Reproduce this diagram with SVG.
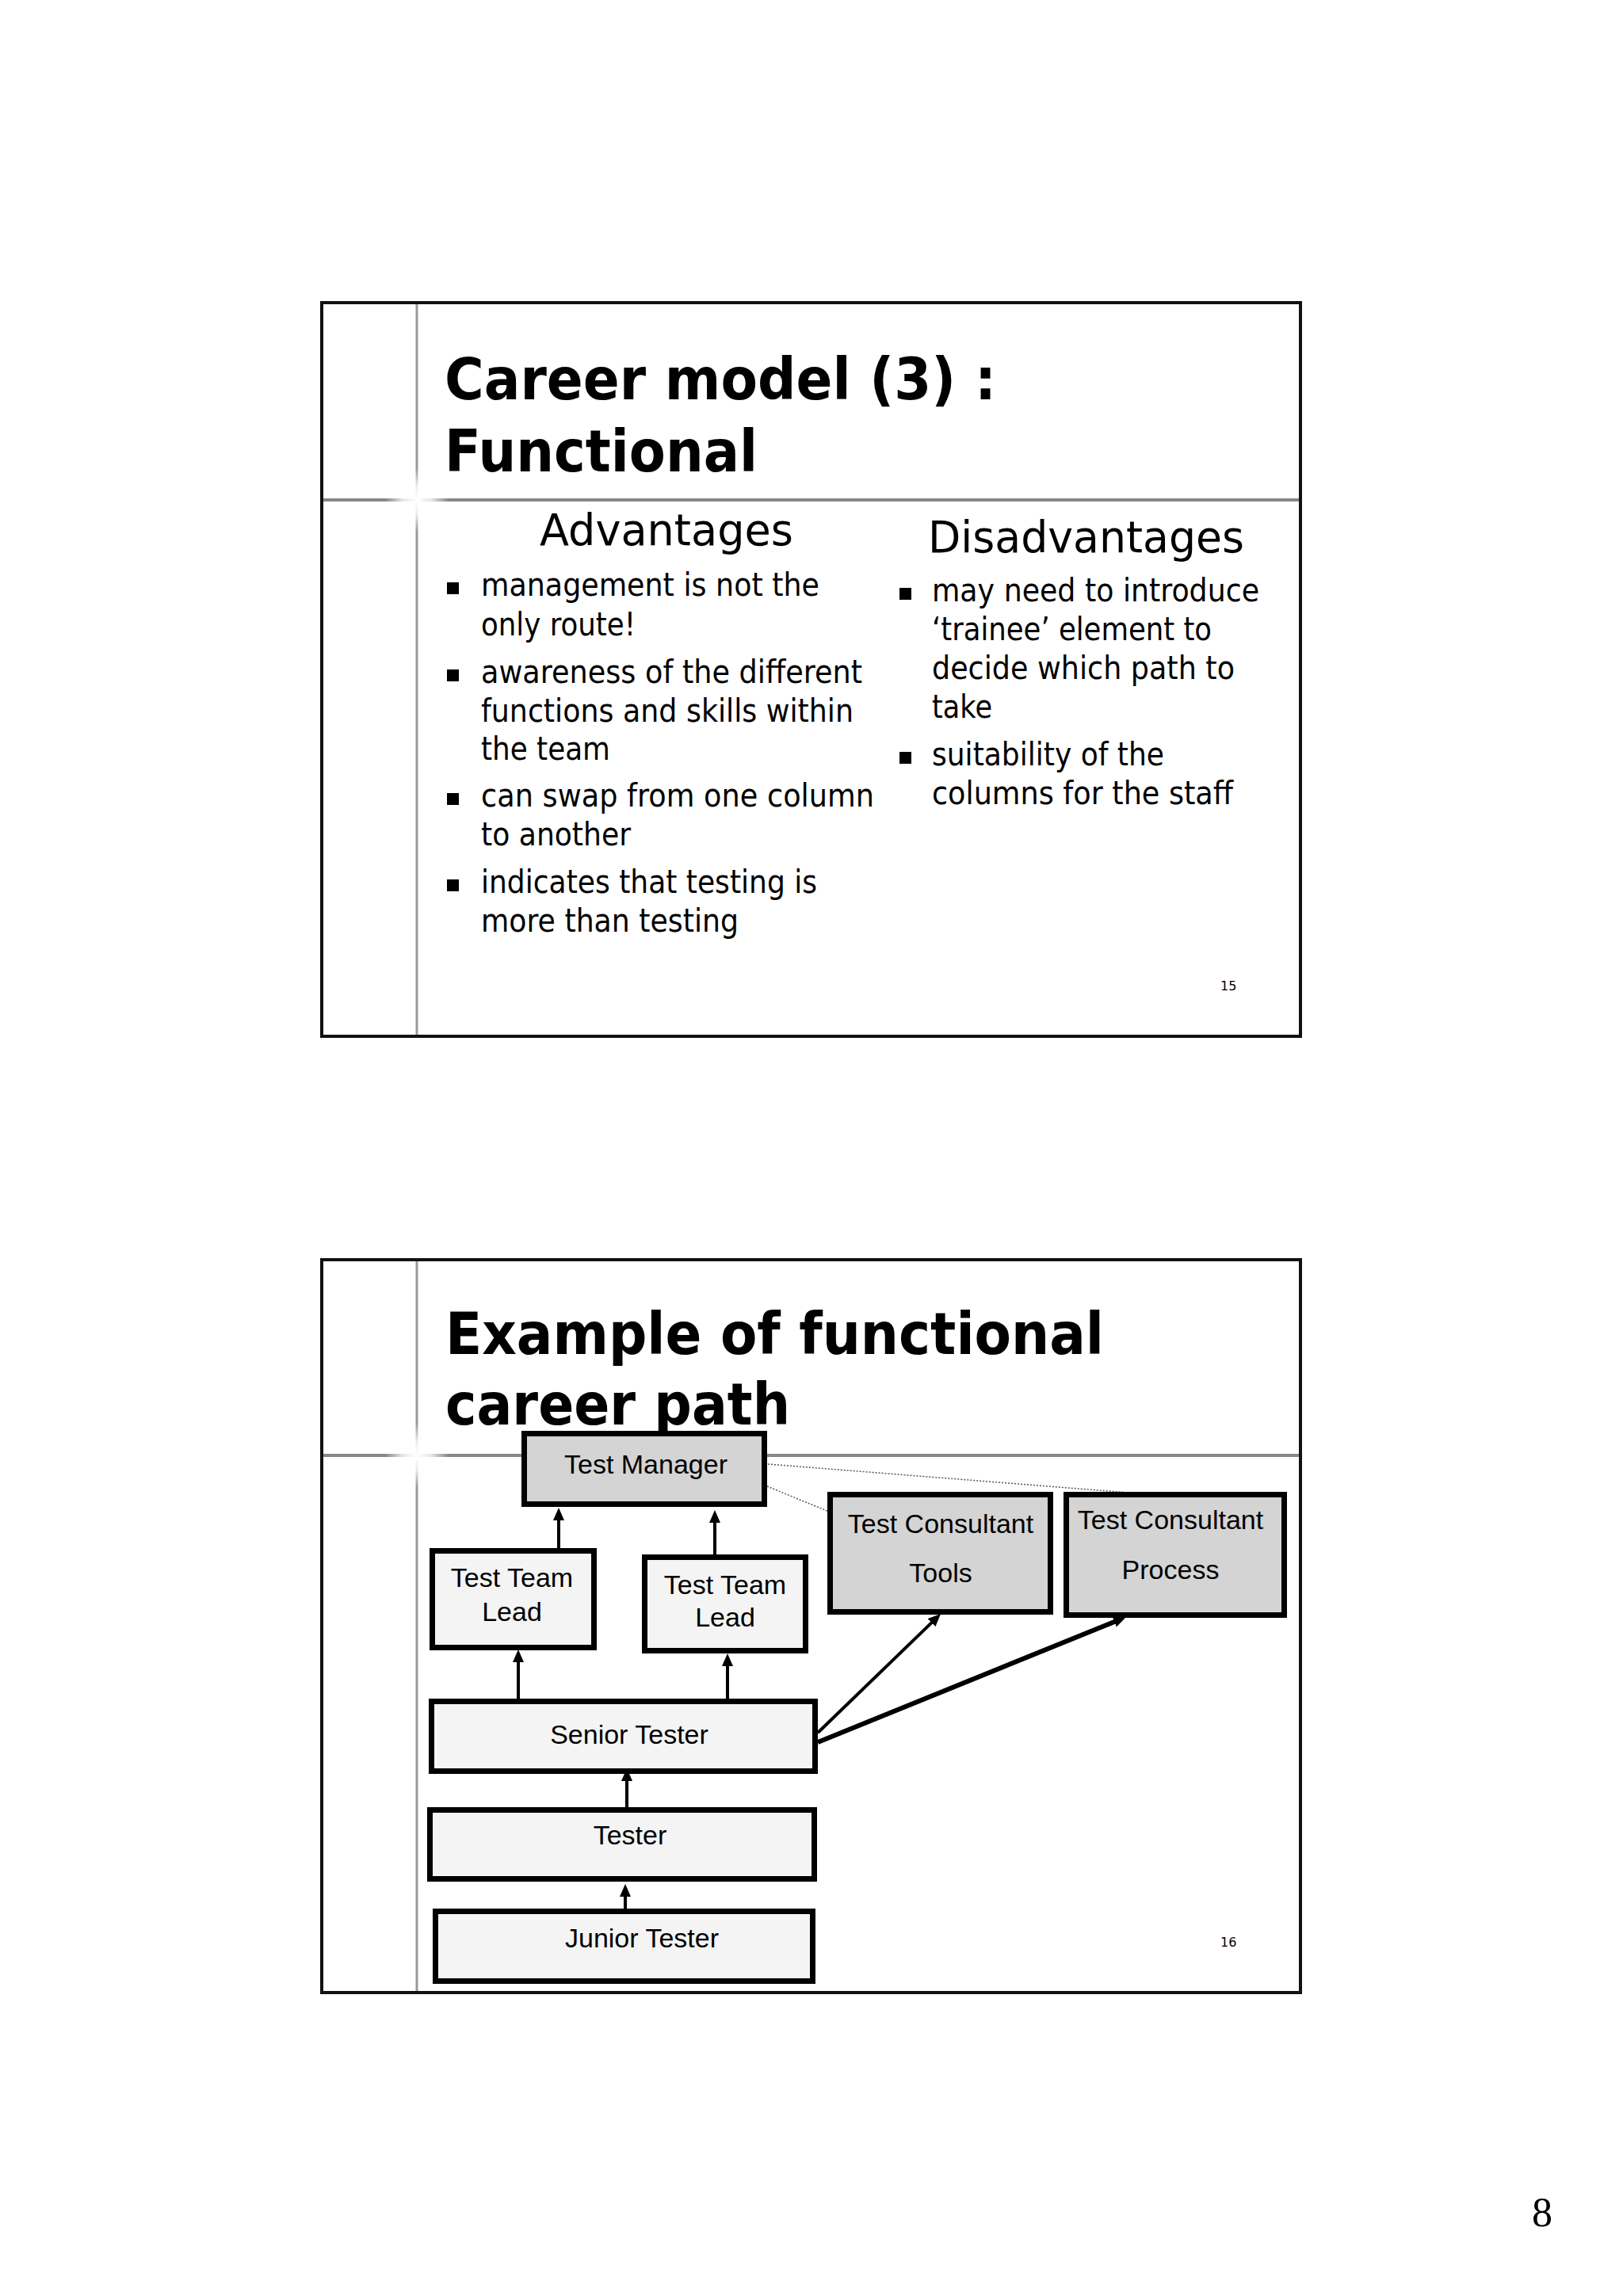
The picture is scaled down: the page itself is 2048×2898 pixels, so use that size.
<svg xmlns="http://www.w3.org/2000/svg" width="2048" height="2898" viewBox="0 0 2048 2898">
<style>
.frame{fill:none;stroke:#111;stroke-width:4}
.vline{stroke:#9a9a9a;stroke-width:3}
.hline{stroke:#878787;stroke-width:4}
.title{font-family:"DejaVu Sans",Verdana,sans-serif;font-weight:bold;font-size:73px;fill:#000}
.head{font-family:"DejaVu Sans",Verdana,sans-serif;font-size:55px;fill:#000}
.body{font-family:"DejaVu Sans",Verdana,sans-serif;font-size:40px;fill:#000}
.num{font-family:"DejaVu Sans",Verdana,sans-serif;font-size:16px;fill:#000}
.bullet{fill:#000}
.box{stroke:#000;stroke-width:7}
.dark{fill:#d4d4d4}
.light{fill:#f4f4f4}
.lbl{font-family:"Liberation Sans",Arial,sans-serif;font-size:34px;fill:#000;text-anchor:middle}
.arrow{stroke:#000;stroke-width:4;fill:none;marker-end:url(#ah)}
.thick{stroke-width:6}
.dot{stroke:#555;stroke-width:1.5;stroke-dasharray:2 2;fill:none}
.page{font-family:"Liberation Serif","Times New Roman",serif;font-size:52px;fill:#000;text-anchor:middle}
</style>
<defs>
<marker id="ah" markerUnits="userSpaceOnUse" markerWidth="16" markerHeight="14" refX="4" refY="7" orient="auto">
<path d="M0,0 L16,7 L0,14 z" fill="#000"/>
</marker>
<radialGradient id="spark">
<stop offset="0" stop-color="#fff" stop-opacity="1"/>
<stop offset="0.45" stop-color="#fff" stop-opacity="0.8"/>
<stop offset="1" stop-color="#fff" stop-opacity="0"/>
</radialGradient>
</defs>
<rect width="2048" height="2898" fill="#fff"/>

<g id="slide15">
<line class="vline" x1="526" y1="382" x2="526" y2="1308"/>
<line class="hline" x1="406" y1="631" x2="1641" y2="631"/>
<circle cx="526" cy="631" r="40" fill="url(#spark)"/>
<rect class="frame" x="406" y="382" width="1235" height="926"/>
<text class="title" x="561" y="504" textLength="696" lengthAdjust="spacingAndGlyphs">Career model (3) :</text>
<text class="title" x="561" y="595" textLength="395" lengthAdjust="spacingAndGlyphs">Functional</text>
<text class="head" x="681" y="688" textLength="320" lengthAdjust="spacingAndGlyphs">Advantages</text>
<text class="head" x="1171" y="697" textLength="399" lengthAdjust="spacingAndGlyphs">Disadvantages</text>
<rect class="bullet" x="564" y="735" width="15" height="15"/>
<rect class="bullet" x="564" y="845" width="15" height="15"/>
<rect class="bullet" x="564" y="1001" width="15" height="15"/>
<rect class="bullet" x="564" y="1110" width="15" height="15"/>
<rect class="bullet" x="1135" y="742" width="15" height="15"/>
<rect class="bullet" x="1135" y="949" width="15" height="15"/>
<text class="body" x="607" y="752" textLength="427" lengthAdjust="spacingAndGlyphs">management is not the</text>
<text class="body" x="607" y="802" textLength="195" lengthAdjust="spacingAndGlyphs">only route!</text>
<text class="body" x="607" y="862" textLength="481" lengthAdjust="spacingAndGlyphs">awareness of the different</text>
<text class="body" x="607" y="911" textLength="470" lengthAdjust="spacingAndGlyphs">functions and skills within</text>
<text class="body" x="607" y="959" textLength="163" lengthAdjust="spacingAndGlyphs">the team</text>
<text class="body" x="607" y="1018" textLength="496" lengthAdjust="spacingAndGlyphs">can swap from one column</text>
<text class="body" x="607" y="1067" textLength="189" lengthAdjust="spacingAndGlyphs">to another</text>
<text class="body" x="607" y="1127" textLength="424" lengthAdjust="spacingAndGlyphs">indicates that testing is</text>
<text class="body" x="607" y="1176" textLength="325" lengthAdjust="spacingAndGlyphs">more than testing</text>
<text class="body" x="1176" y="759" textLength="413" lengthAdjust="spacingAndGlyphs">may need to introduce</text>
<text class="body" x="1176" y="808" textLength="353" lengthAdjust="spacingAndGlyphs">‘trainee’ element to</text>
<text class="body" x="1176" y="857" textLength="382" lengthAdjust="spacingAndGlyphs">decide which path to</text>
<text class="body" x="1176" y="906" textLength="76" lengthAdjust="spacingAndGlyphs">take</text>
<text class="body" x="1176" y="966" textLength="293" lengthAdjust="spacingAndGlyphs">suitability of the</text>
<text class="body" x="1176" y="1015" textLength="380" lengthAdjust="spacingAndGlyphs">columns for the staff</text>
<text class="num" x="1540" y="1250">15</text>
</g>

<g id="slide16">
<line class="vline" x1="526" y1="1590" x2="526" y2="2515"/>
<line class="hline" x1="406" y1="1837" x2="1641" y2="1837"/>
<circle cx="526" cy="1837" r="40" fill="url(#spark)"/>
<rect class="frame" x="406" y="1590" width="1235" height="925"/>
<text class="title" x="562" y="1709" textLength="831" lengthAdjust="spacingAndGlyphs">Example of functional</text>
<text class="title" x="562" y="1798" textLength="435" lengthAdjust="spacingAndGlyphs">career path</text>
<text class="num" x="1540" y="2457">16</text>
</g>

<g id="connectors">
<line class="dot" x1="969" y1="1848" x2="1424" y2="1884"/>
<line class="dot" x1="968" y1="1876" x2="1046" y2="1908"/>
<line class="arrow" x1="705" y1="1954" x2="705" y2="1915"/>
<line class="arrow" x1="902" y1="1962" x2="902" y2="1918"/>
<line class="arrow" x1="654" y1="2150" x2="654" y2="2094"/>
<line class="arrow" x1="918" y1="2152" x2="918" y2="2099"/>
<line class="arrow" x1="791" y1="2281" x2="791" y2="2244"/>
<line class="arrow" x1="789" y1="2409" x2="789" y2="2390"/>
<line class="arrow" x1="1032" y1="2187" x2="1178.4" y2="2045.4"/>
<line class="arrow thick" x1="1032" y1="2199" x2="1409.9" y2="2045.5"/>
</g>

<g id="node-test-manager">
<rect class="box dark" x="661.5" y="1809.5" width="303" height="89"/>
<text class="lbl" x="815" y="1860">Test Manager</text>
</g>
<g id="node-consultant-tools">
<rect class="box dark" x="1047.5" y="1886.5" width="278" height="148"/>
<text class="lbl" x="1187" y="1935">Test Consultant</text>
<text class="lbl" x="1187" y="1997">Tools</text>
</g>
<g id="node-consultant-process">
<rect class="box dark" x="1345.5" y="1886.5" width="275" height="152"/>
<text class="lbl" x="1477" y="1930">Test Consultant</text>
<text class="lbl" x="1477" y="1993">Process</text>
</g>
<g id="node-team-lead-1">
<rect class="box light" x="545.5" y="1957.5" width="204" height="122"/>
<text class="lbl" x="646" y="2003">Test Team</text>
<text class="lbl" x="646" y="2046">Lead</text>
</g>
<g id="node-team-lead-2">
<rect class="box light" x="813.5" y="1965.5" width="203" height="118"/>
<text class="lbl" x="915" y="2012">Test Team</text>
<text class="lbl" x="915" y="2053">Lead</text>
</g>
<g id="node-senior-tester">
<rect class="box light" x="544.5" y="2147.5" width="484" height="88"/>
<text class="lbl" x="794" y="2201">Senior Tester</text>
</g>
<g id="node-tester">
<rect class="box light" x="542.5" y="2284.5" width="485" height="87"/>
<text class="lbl" x="795" y="2328">Tester</text>
</g>
<g id="node-junior-tester">
<rect class="box light" x="549.5" y="2412.5" width="476" height="88"/>
<text class="lbl" x="810" y="2458">Junior Tester</text>
</g>

<text class="page" x="1946" y="2810">8</text>
</svg>
